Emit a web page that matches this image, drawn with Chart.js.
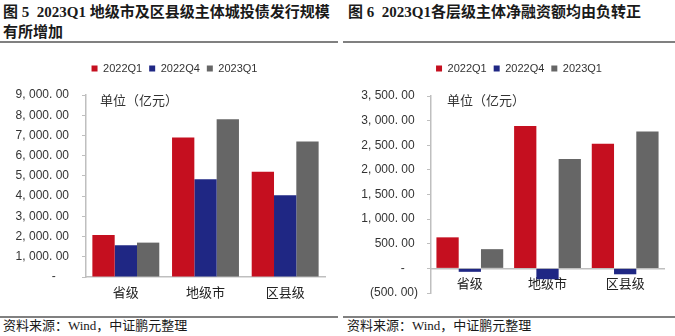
<!DOCTYPE html>
<html><head><meta charset="utf-8">
<script src="https://cdn.jsdelivr.net/npm/chart.js@4/dist/chart.umd.min.js"></script>
<style>
html,body{margin:0;padding:0;background:#fff;width:675px;height:336px;overflow:hidden;position:relative}
.t{position:absolute;font-family:"Liberation Serif","Noto Sans CJK SC";font-weight:bold;font-size:15px;line-height:20px;color:#1a1a1a;white-space:nowrap}
.rule{position:absolute;background:#808080}
.src{position:absolute;font-family:"Liberation Serif","Noto Sans CJK SC";font-size:13px;line-height:16px;color:#1a1a1a;white-space:nowrap}
.unit{position:absolute;font-family:"Noto Sans CJK SC";font-size:13px;line-height:16px;color:#333;white-space:nowrap}
.wrap{position:absolute}
</style></head><body>
<div class="t" style="left:3px;top:2px">图 5&nbsp; 2023Q1 地级市及区县级主体城投债发行规模<br>有所增加</div>
<div class="t" style="left:348px;top:2px">图 6&nbsp; 2023Q1各层级主体净融资额均由负转正</div>
<div class="rule" style="left:0;top:41px;width:338px;height:2px"></div>
<div class="rule" style="left:343px;top:41px;width:332px;height:2px"></div>
<div class="wrap" style="left:0;top:56px"><canvas id="c1" width="338" height="254"></canvas></div>
<div class="wrap" style="left:338px;top:56px"><canvas id="c2" width="337" height="254"></canvas></div>
<div class="unit" style="left:100px;top:92px">单位（亿元）</div>
<div class="unit" style="left:447px;top:92px">单位（亿元）</div>
<div class="rule" style="left:0;top:316px;width:338px;height:1.5px"></div>
<div class="rule" style="left:343px;top:316px;width:332px;height:1.5px"></div>
<div class="src" style="left:3px;top:318px">资料来源：Wind，中证鹏元整理</div>
<div class="src" style="left:347px;top:318px">资料来源：Wind，中证鹏元整理</div>
<script>
const categories = ['省级', '地级市', '区县级'];
const seriesNames = ['2022Q1', '2022Q4', '2023Q1'];
// 图5 城投债发行规模（亿元）
const issue2022Q1 = [2080, 6900, 5200];
const issue2022Q4 = [1570, 4830, 4040];
const issue2023Q1 = [1700, 7800, 6700];
// 图6 净融资额（亿元）
const net2022Q1 = [630, 2890, 2530];
const net2022Q4 = [-70, -220, -120];
const net2023Q1 = [390, 2220, 2780];
// axis ranges / tick steps
const leftAxis = [0, 9000, 1000];
const rightAxis = [-500, 3500, 500];

const colors = ['#C50F1F', '#1F2784', '#666666'];
const axisColor = '#BFBFBF';
const tickFont = {family: '"Liberation Sans"', size: 12};

function fmt(v, trail) {
  if (v === 0) return '-    ';
  const s = Math.abs(v).toLocaleString('en-US', {minimumFractionDigits: 2, maximumFractionDigits: 2})
    .replace(/,/g, ', ').replace('.', '. ');
  return v < 0 ? '(' + s + ')' : s + trail;
}

const legendFix = {
  id: 'legendFix',
  beforeInit(chart, args, opts) {
    const orig = chart.legend.fit;
    chart.legend.fit = function () { orig.call(this); this.height = opts.h; };
  },
  afterLayout(chart, args, opts) {
    chart.legend.left += opts.shift;
    chart.legend.right += opts.shift;
  }
};

function makeChart(id, vals, axis, cfg) {
  return new Chart(document.getElementById(id), {
    type: 'bar',
    data: {
      labels: categories,
      datasets: vals.map((d, i) => ({
        label: seriesNames[i], data: d, backgroundColor: colors[i],
        categoryPercentage: cfg.cat, barPercentage: 1
      }))
    },
    plugins: [legendFix],
    options: {
      responsive: false, animation: false, devicePixelRatio: 1,
      layout: {padding: {left: 0, right: cfg.padR, top: 0, bottom: cfg.padB}},
      plugins: {
        legendFix: {h: cfg.legH, shift: cfg.shift},
        legend: {
          position: 'top',
          labels: {boxWidth: 6, boxHeight: 6, padding: 7, color: '#333',
            font: {family: '"Liberation Sans"', size: 11}}
        },
        tooltip: {enabled: false}
      },
      scales: {
        x: {
          position: cfg.xPos,
          grid: {display: false, drawTicks: false},
          border: {display: true, color: axisColor, width: 1.5},
          ticks: {color: '#222', padding: 7, font: {family: '"Noto Sans CJK SC"', size: 13}},
          afterFit: s => { s.height = cfg.xH; }
        },
        y: {
          min: axis[0], max: axis[1],
          grid: {drawOnChartArea: false, drawTicks: true, tickLength: 4, color: axisColor},
          border: {display: true, color: axisColor, width: 1.5},
          ticks: {stepSize: axis[2], color: '#333', padding: cfg.tickPad, font: tickFont,
            callback: v => fmt(v, cfg.trail)},
          afterFit: s => { s.width = cfg.yW; }
        }
      }
    }
  });
}

makeChart('c1', [issue2022Q1, issue2022Q4, issue2023Q1], leftAxis,
  {cat: 0.84, padR: 13, padB: 0, legH: 39, shift: 12, xPos: 'bottom', xH: 33, yW: 86, tickPad: 13, trail: ''});
makeChart('c2', [net2022Q1, net2022Q4, net2023Q1], rightAxis,
  {cat: 0.86, padR: 11, padB: 17, legH: 40, shift: 18, xPos: {y: 0}, xH: 0, yW: 93, tickPad: 9, trail: ' '});
</script>
</body></html>
